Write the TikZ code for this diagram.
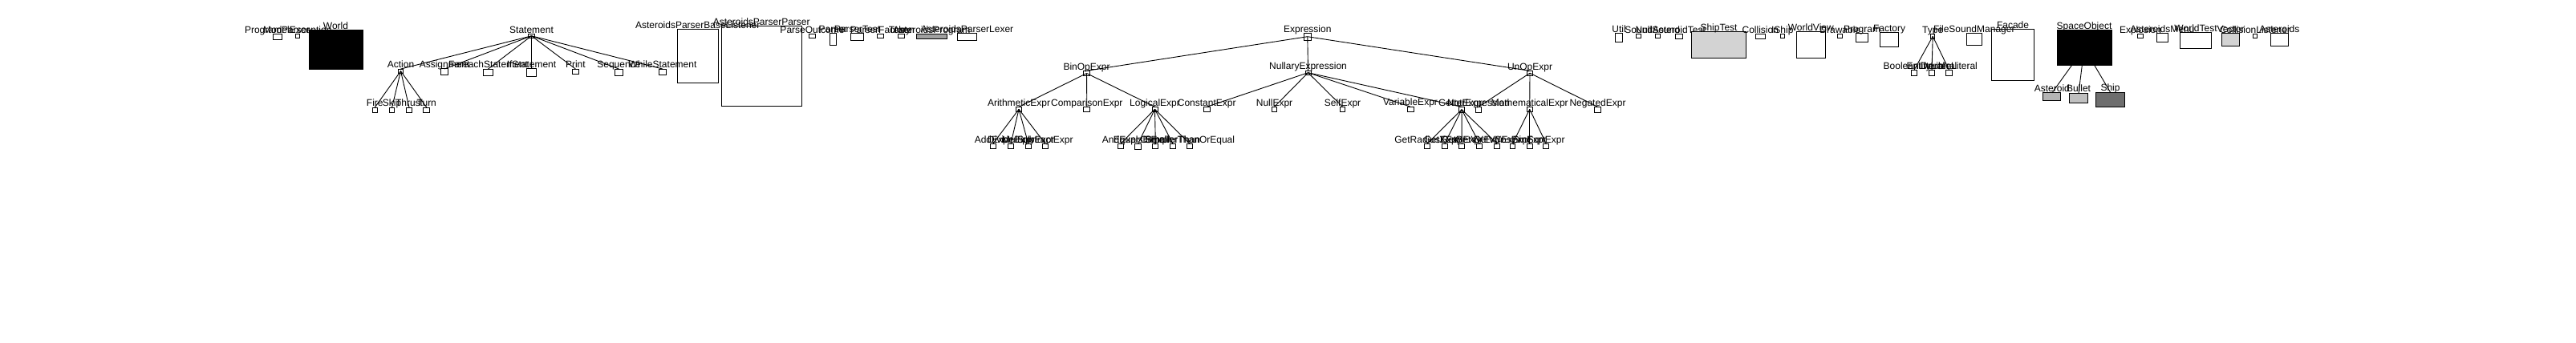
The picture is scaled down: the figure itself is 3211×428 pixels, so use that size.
\documentclass[tikz,border=0pt]{standalone}
\usepackage{fontspec}
\setmainfont{Liberation Sans}
\usepackage{tikz}
\usetikzlibrary{positioning}
\tikzstyle{cls} = [draw=black, line width=1pt, inner sep=0pt, outer sep=0pt]
\tikzstyle{lbl} = [font=\fontsize{12}{12}\selectfont, inner sep=0pt, text depth=1pt, text=black]
\tikzstyle{tedge} = [draw, line width=0.9pt]

\begin{document}
\begin{tikzpicture}[x=1pt, y=-1pt]
\fill[white] (0,0) rectangle (3211,428);
\useasboundingbox (0,0) rectangle (3211,428);

% left group =============================
\node[cls, minimum width=11.4pt, minimum height=7pt, label={[lbl]above:ProgramParser}] (progparser) at (345.7,45.8) {};
\node[cls, minimum width=5.6pt, minimum height=5pt, label={[lbl]above:ModelException}] (modelexc) at (370.8,44.8) {};
\node[cls, fill=black, minimum width=67pt, minimum height=48pt, label={[lbl]above:World}] (world) at (418.5,62) {};

% statements =============================
\node[cls, minimum width=7.8pt, minimum height=5pt, label={[lbl]above:Statement}] (statement) at (662.5,44.8) {};
\node[cls, minimum width=6.1pt, minimum height=5.3pt, label={[lbl]above:Action}] (action) at (499.5,88.7) {};
\node[cls, minimum width=9pt, minimum height=7.7pt, label={[lbl]above:Assignment}] (assignment) at (554.1,89.8) {};
\node[cls, minimum width=12.1pt, minimum height=8.3pt, label={[lbl]above:ForeachStatement}] (foreach) at (608.5,90.2) {};
\node[cls, minimum width=12.2pt, minimum height=10pt, label={[lbl]above:IfStatement}] (ifstmt) at (662.5,90.3) {};
\node[cls, minimum width=8.8pt, minimum height=6.3pt, label={[lbl]above:Print}] (print) at (717.4,89.2) {};
\node[cls, minimum width=10pt, minimum height=8.3pt, label={[lbl]above:Sequence}] (sequence) at (771.4,90.2) {};
\node[cls, minimum width=9.3pt, minimum height=7.3pt, label={[lbl]above:WhileStatement}] (whilestmt) at (826,89.7) {};
\node[cls, minimum width=6.1pt, minimum height=6pt, label={[lbl]above:Fire}] (fire) at (467.3,137) {};
\node[cls, minimum width=5.7pt, minimum height=6pt, label={[lbl]above:Skip}] (skip) at (488.6,137) {};
\node[cls, minimum width=6.4pt, minimum height=6pt, label={[lbl]above:Thrust}] (thrust) at (510,137) {};
\node[cls, minimum width=7.8pt, minimum height=6.3pt, label={[lbl]above:Turn}] (turn) at (531.8,137.2) {};

% parser =============================
\node[cls, minimum width=51.3pt, minimum height=66.6pt, label={[lbl]above:AsteroidsParserBaseListener}] (baselistener) at (869.7,70) {};
\node[cls, minimum width=100pt, minimum height=100pt, label={[lbl]above:AsteroidsParserParser}] (parserparser) at (949.3,82.3) {};
\node[cls, minimum width=8.4pt, minimum height=5pt, label={[lbl]above:ParseOutcome}] (parseoutcome) at (1012.5,44.8) {};
\node[cls, minimum width=8pt, minimum height=15.4pt, label={[lbl]above:Parser}] (parser) at (1038.3,49) {};
\node[cls, minimum width=16.4pt, minimum height=9pt, label={[lbl]above:ParserTest}] (parsertest) at (1068.5,45.8) {};
\node[cls, minimum width=8.4pt, minimum height=5pt, label={[lbl]above:ParserFactory}] (parserfactory) at (1097.5,44.8) {};
\node[cls, minimum width=7.7pt, minimum height=5pt, label={[lbl]above:Token}] (token) at (1123.8,44.8) {};
\node[cls, fill={rgb,255:red,160;green,160;blue,160}, minimum width=38pt, minimum height=6.4pt, label={[lbl]above:AsteroidsProgram}] (astprogram) at (1161.3,45.5) {};
\node[cls, minimum width=24.4pt, minimum height=9pt, label={[lbl]above:AsteroidsParserLexer}] (lexer) at (1205.5,45.8) {};

% expressions =============================
\node[cls, minimum width=9.6pt, minimum height=8.7pt, label={[lbl]above:Expression}] (expression) at (1629.8,45.7) {};
\node[cls, minimum width=8.4pt, minimum height=6.4pt, label={[lbl]above:BinOpExpr}] (binop) at (1354.5,91.5) {};
\node[cls, minimum width=7pt, minimum height=5.3pt, label={[lbl]above:NullaryExpression}] (nullary) at (1630.5,90.7) {};
\node[cls, minimum width=7.4pt, minimum height=5.7pt, label={[lbl]above:UnOpExpr}] (unop) at (1907,91.2) {};

\node[cls, minimum width=6.9pt, minimum height=6pt, label={[lbl]above:ArithmeticExpr}] (arith) at (1270,136.3) {};
\node[cls, minimum width=7.7pt, minimum height=6pt, label={[lbl]above:ComparisonExpr}] (comparison) at (1354.8,136.3) {};
\node[cls, minimum width=7pt, minimum height=6pt, label={[lbl]above:LogicalExpr}] (logical) at (1439.5,136.3) {};
\node[cls, minimum width=7.7pt, minimum height=6pt, label={[lbl]above:ConstantExpr}] (constant) at (1504.2,136.3) {};
\node[cls, minimum width=6.5pt, minimum height=6pt, label={[lbl]above:NullExpr}] (nullexpr) at (1588.5,136.3) {};
\node[cls, minimum width=6.5pt, minimum height=6pt, label={[lbl]above:SelfExpr}] (selfexpr) at (1673.5,136.3) {};
\node[cls, minimum width=8pt, minimum height=6.7pt, label={[lbl]above:VariableExpr}] (variable) at (1758,136.5) {};
\node[cls, minimum width=7.4pt, minimum height=6.7pt, label={[lbl]above:GetterExpr}] (getter) at (1822,136.7) {};
\node[cls, minimum width=7.4pt, minimum height=6.7pt, label={[lbl]above:NotExpression}] (notexpr) at (1843,136.7) {};
\node[cls, minimum width=6.7pt, minimum height=6pt, label={[lbl]above:MathematicalExpr}] (math) at (1906.7,136.3) {};
\node[cls, minimum width=8.4pt, minimum height=6.7pt, label={[lbl]above:NegatedExpr}] (negated) at (1991.5,136.7) {};

\node[cls, minimum width=6.9pt, minimum height=6.4pt, label={[lbl]above:AddExpr}] (addexpr) at (1237.8,182.5) {};
\node[cls, minimum width=6.9pt, minimum height=6.4pt, label={[lbl]above:DivideExpr}] (divideexpr) at (1260,182.5) {};
\node[cls, minimum width=6.8pt, minimum height=6.4pt, label={[lbl]above:MultiplyExpr}] (multiplyexpr) at (1281.8,182.5) {};
\node[cls, minimum width=6.9pt, minimum height=6.4pt, label={[lbl]above:SubtractExpr}] (subtractexpr) at (1302.9,182.5) {};
\node[cls, minimum width=7.8pt, minimum height=6.4pt, label={[lbl]above:AndExpr}] (andexpr) at (1396.9,182.5) {};
\node[cls, minimum width=8pt, minimum height=7.4pt, label={[lbl]above:EqualsExpr}] (equalsexpr) at (1418.6,183) {};
\node[cls, minimum width=6.9pt, minimum height=6.4pt, label={[lbl]above:OrExpr}] (orexpr) at (1440.3,182.5) {};
\node[cls, minimum width=7.7pt, minimum height=6.4pt, label={[lbl]above:SmallerThan}] (smallerthan) at (1462,182.5) {};
\node[cls, minimum width=7.3pt, minimum height=6.4pt, label={[lbl]above:SmallerThanOrEqual}] (smallerorequal) at (1483,182.5) {};
\node[cls, minimum width=6.6pt, minimum height=6.4pt, label={[lbl]above:GetRadiusExpr}] (getradius) at (1779,182.5) {};
\node[cls, minimum width=7pt, minimum height=6.4pt, label={[lbl]above:GetXExpr}] (getx) at (1800.8,182.5) {};
\node[cls, minimum width=7pt, minimum height=6.4pt, label={[lbl]above:GetYExpr}] (gety) at (1822.2,182.5) {};
\node[cls, minimum width=7pt, minimum height=6.4pt, label={[lbl]above:GetVXExpr}] (getvx) at (1844.2,182.5) {};
\node[cls, minimum width=7pt, minimum height=6.4pt, label={[lbl]above:GetVYExpr}] (getvy) at (1866.2,182.5) {};
\node[cls, minimum width=6.4pt, minimum height=6.4pt, label={[lbl]above:CosExpr}] (cosexpr) at (1885.5,182.5) {};
\node[cls, minimum width=6.7pt, minimum height=6.4pt, label={[lbl]above:SinExpr}] (sinexpr) at (1906.7,182.5) {};
\node[cls, minimum width=6.7pt, minimum height=6.4pt, label={[lbl]above:SqrtExpr}] (sqrtexpr) at (1927.3,182.5) {};

% model and gui =============================
\node[cls, minimum width=9.4pt, minimum height=11pt, label={[lbl]above:Util}] (util) at (2018,46.8) {};
\node[cls, minimum width=5.7pt, minimum height=5pt, label={[lbl]above:Sound}] (sound) at (2042.8,44.8) {};
\node[cls, minimum width=6pt, minimum height=5pt, label={[lbl]above:NullSound}] (nullsound) at (2066.3,44.8) {};
\node[cls, minimum width=9pt, minimum height=6.4pt, label={[lbl]above:AsteroidTest}] (asteroidtest) at (2092.8,45.5) {};
\node[cls, fill={rgb,255:red,211;green,211;blue,211}, minimum width=68.4pt, minimum height=33pt, label={[lbl]above:ShipTest}] (shiptest) at (2142.5,55.8) {};
\node[cls, minimum width=12pt, minimum height=6pt, label={[lbl]above:Collision}] (collision) at (2194.3,45.3) {};
\node[cls, minimum width=5pt, minimum height=5pt, label={[lbl]above:IShip}] (iship) at (2221.8,44.8) {};
\node[cls, minimum width=36pt, minimum height=33pt, label={[lbl]above:WorldView}] (worldview) at (2257.3,55.8) {};
\node[cls, minimum width=5.7pt, minimum height=5pt, label={[lbl]above:Drawable}] (drawable) at (2293.8,44.8) {};
\node[cls, minimum width=15.4pt, minimum height=11pt, label={[lbl]above:Program}] (program) at (2321,46.8) {};
\node[cls, minimum width=23.4pt, minimum height=18pt, label={[lbl]above:Factory}] (factory) at (2355,49.3) {};
\node[cls, minimum width=5pt, minimum height=6pt, label={[lbl]above:Type}] (type) at (2409.2,45.3) {};
\node[cls, minimum width=7.4pt, minimum height=7pt, label={[lbl]above:BooleanLiteral}] (boolliteral) at (2386,90.8) {};
\node[cls, minimum width=7.4pt, minimum height=7pt, label={[lbl]above:EntityLiteral}] (entityliteral) at (2408,90.8) {};
\node[cls, minimum width=8.4pt, minimum height=7pt, label={[lbl]above:DoubleLiteral}] (doubleliteral) at (2429.5,90.8) {};
\node[cls, minimum width=19.5pt, minimum height=15pt, label={[lbl]above:FileSoundManager}] (filesound) at (2460.8,48.8) {};
\node[cls, minimum width=53.4pt, minimum height=64pt, label={[lbl]above:Facade}] (facade) at (2509,68.3) {};
\node[cls, fill=black, minimum width=68pt, minimum height=43.7pt, label={[lbl]above:SpaceObject}] (spaceobject) at (2598,59.8) {};
\node[cls, fill={rgb,255:red,180;green,180;blue,180}, minimum width=21.7pt, minimum height=9.7pt, label={[lbl]above:Asteroid}] (asteroid) at (2557.8,120.8) {};
\node[cls, fill={rgb,255:red,192;green,192;blue,192}, minimum width=23.4pt, minimum height=12.3pt, label={[lbl]above:Bullet}] (bullet) at (2591,122.2) {};
\node[cls, fill={rgb,255:red,110;green,110;blue,110}, minimum width=36.4pt, minimum height=18.3pt, label={[lbl]above:Ship}] (ship) at (2630.5,124.2) {};
\node[cls, minimum width=7.4pt, minimum height=5pt, label={[lbl]above:Explosion}] (explosion) at (2668,44.8) {};
\node[cls, minimum width=14pt, minimum height=11pt, label={[lbl]above:AsteroidsMenu}] (menu) at (2695.3,46.8) {};
\node[cls, minimum width=39.4pt, minimum height=20pt, label={[lbl]above:WorldTest}] (worldtest) at (2737,50.3) {};
\node[cls, fill={rgb,255:red,211;green,211;blue,211}, minimum width=22.4pt, minimum height=16pt, label={[lbl]above:Vector}] (vector) at (2780.5,49.3) {};
\node[cls, minimum width=5.4pt, minimum height=5pt, label={[lbl]above:CollisionListener}] (colllistener) at (2811,44.8) {};
\node[cls, minimum width=22pt, minimum height=16pt, label={[lbl]above:Asteroids}] (asteroids) at (2841.3,49.3) {};

% edges
\path[tedge] (statement.center) edge (action.north);
\path[tedge] (statement.center) edge (assignment.north);
\path[tedge] (statement.center) edge (foreach.north);
\path[tedge] (statement.center) edge (ifstmt.north);
\path[tedge] (statement.center) edge (print.north);
\path[tedge] (statement.center) edge (sequence.north);
\path[tedge] (statement.center) edge (whilestmt.north);

\path[tedge] (action.center) edge (fire.north);
\path[tedge] (action.center) edge (skip.north);
\path[tedge] (action.center) edge (thrust.north);
\path[tedge] (action.center) edge (turn.north);

\path[tedge] (expression.center) edge (binop.north);
\path[tedge] (expression.center) edge (nullary.north);
\path[tedge] (expression.center) edge (unop.north);

\path[tedge] (binop.center) edge (arith.north);
\path[tedge] (binop.center) edge (comparison.north);
\path[tedge] (binop.center) edge (logical.north);

\path[tedge] (nullary.center) edge (constant.north);
\path[tedge] (nullary.center) edge (nullexpr.north);
\path[tedge] (nullary.center) edge (selfexpr.north);
\path[tedge] (nullary.center) edge (variable.north);
\path[tedge] (nullary.center) edge (getter.north);

\path[tedge] (unop.center) edge (notexpr.north);
\path[tedge] (unop.center) edge (math.north);
\path[tedge] (unop.center) edge (negated.north);

\path[tedge] (arith.center) edge (addexpr.north);
\path[tedge] (arith.center) edge (divideexpr.north);
\path[tedge] (arith.center) edge (multiplyexpr.north);
\path[tedge] (arith.center) edge (subtractexpr.north);

\path[tedge] (logical.center) edge (andexpr.north);
\path[tedge] (logical.center) edge (equalsexpr.north);
\path[tedge] (logical.center) edge (orexpr.north);
\path[tedge] (logical.center) edge (smallerthan.north);
\path[tedge] (logical.center) edge (smallerorequal.north);

\path[tedge] (getter.center) edge (getradius.north);
\path[tedge] (getter.center) edge (getx.north);
\path[tedge] (getter.center) edge (gety.north);
\path[tedge] (getter.center) edge (getvx.north);
\path[tedge] (getter.center) edge (getvy.north);

\path[tedge] (math.center) edge (cosexpr.north);
\path[tedge] (math.center) edge (sinexpr.north);
\path[tedge] (math.center) edge (sqrtexpr.north);

\path[tedge] (type.center) edge (boolliteral.north);
\path[tedge] (type.center) edge (entityliteral.north);
\path[tedge] (type.center) edge (doubleliteral.north);

\path[tedge] (spaceobject.center) edge (asteroid.north);
\path[tedge] (spaceobject.center) edge (bullet.north);
\path[tedge] (spaceobject.center) edge (ship.north);

\end{tikzpicture}
\end{document}
